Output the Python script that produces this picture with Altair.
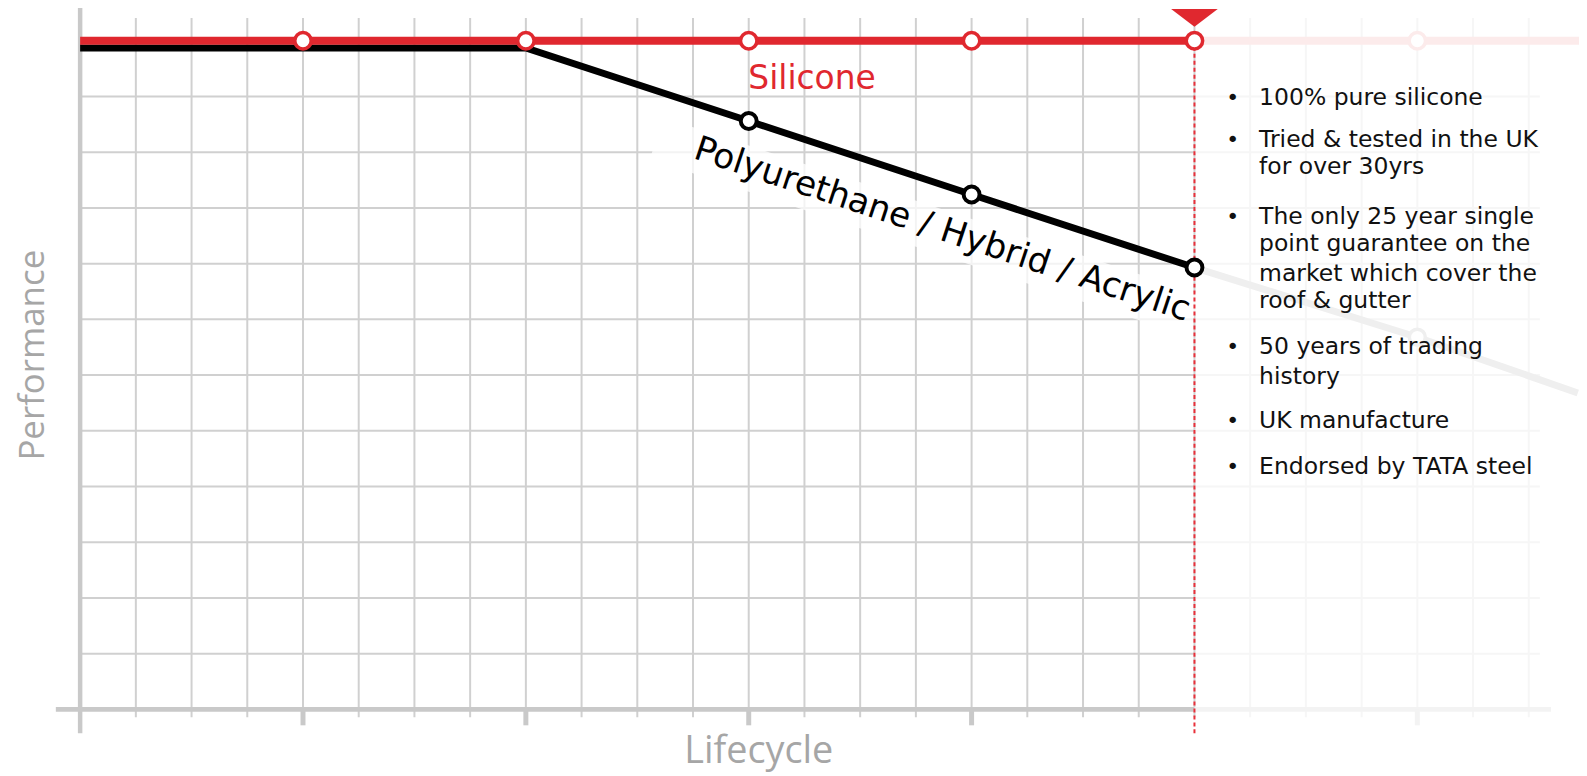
import altair as alt
import pandas as pd

# ---------------- data ----------------
silicone_x = [0, 1, 2, 3, 4, 5]
silicone_y = [12, 12, 12, 12, 12, 12]
silicone_marker_x = [1, 2, 3, 4, 5]
silicone_fade_x = [5, 6, 6.73]
silicone_fade_y = [12, 12, 12]
silicone_fade_marker_x = [6]

poly_x = [0, 2, 3, 4, 5]
poly_y = [11.87, 11.87, 10.56, 9.24, 7.93]
poly_marker_x = [3, 4, 5]
poly_marker_y = [10.56, 9.24, 7.93]
poly_fade_x = [5, 6, 6.72]
poly_fade_y = [7.93, 6.68, 5.68]

grid_x = [0.25, 0.5, 0.75, 1.0, 1.25, 1.5, 1.75, 2.0, 2.25, 2.5, 2.75, 3.0,
          3.25, 3.5, 3.75, 4.0, 4.25, 4.5, 4.75, 5.0]
grid_fade_x = [5.25, 5.5, 5.75, 6.0, 6.25, 6.5]
grid_y = [1, 2, 3, 4, 5, 6, 7, 8, 9, 10, 11, 12]
major_x = [1, 2, 3, 4]
major_fade_x = [6]

bullet_lines = [
    "100% pure silicone",
    "Tried & tested in the UK",
    "for over 30yrs",
    "The only 25 year single",
    "point guarantee on the",
    "market which cover the",
    "roof & gutter",
    "50 years of trading",
    "history",
    "UK manufacture",
    "Endorsed by TATA steel",
]
bullet_line_y = [10.98, 10.21, 9.73, 8.83, 8.36, 7.82, 7.33, 6.5, 5.97, 5.18, 4.35]
bullet_start = [True, True, False, True, False, False, False, True, False, True, True]

# ---------------- styling ----------------
RED = "#e0282f"
GRID = "#d0d0d0"
AXIS = "#c9c9c9"
FADE_GRID = "#f6f6f6"
FADE_RED = "#fcebeb"
FADE_BLACK = "#efefef"

W, H = 1579, 768
X = alt.Scale(domain=[-0.323661, 6.725446], nice=False, zero=False)
Y = alt.Scale(domain=[-1.160714, 12.553571], nice=False, zero=False)


def xe(f):
    return alt.X(f, type="quantitative", scale=X, axis=None)


def ye(f):
    return alt.Y(f, type="quantitative", scale=Y, axis=None)


layers = []

# vertical grid lines (extend slightly below the axis as minor ticks)
vg = pd.DataFrame({"x": grid_x, "y0": -0.143, "y1": 12.41})
layers.append(alt.Chart(vg).mark_rule(color=GRID, strokeWidth=2).encode(
    x=xe("x"), y=ye("y0"), y2="y1"))
vgf = pd.DataFrame({"x": grid_fade_x, "y0": -0.143, "y1": 12.41})
layers.append(alt.Chart(vgf).mark_rule(color=FADE_GRID, strokeWidth=2).encode(
    x=xe("x"), y=ye("y0"), y2="y1"))

# horizontal grid lines
hg = pd.DataFrame({"y": grid_y, "x0": 0, "x1": 5})
layers.append(alt.Chart(hg).mark_rule(color=GRID, strokeWidth=2).encode(
    y=ye("y"), x=xe("x0"), x2="x1"))
hgf = pd.DataFrame({"y": grid_y, "x0": 5, "x1": 6.55})
layers.append(alt.Chart(hgf).mark_rule(color=FADE_GRID, strokeWidth=2).encode(
    y=ye("y"), x=xe("x0"), x2="x1"))

# white band behind the rotated label
band = pd.DataFrame({"x": [2.587, 5.0], "y": [10.25, 7.07]})
layers.append(alt.Chart(band).mark_line(color="white", strokeWidth=44, opacity=0.75,
                                        strokeCap="butt").encode(x=xe("x"), y=ye("y")))

# axis lines
xa = pd.DataFrame({"x0": [-0.109], "x1": [5.0], "y": [0]})
layers.append(alt.Chart(xa).mark_rule(color=AXIS, strokeWidth=5).encode(
    y=ye("y"), x=xe("x0"), x2="x1"))
xaf = pd.DataFrame({"x0": [5.0], "x1": [6.6], "y": [0]})
layers.append(alt.Chart(xaf).mark_rule(color="#f3f3f3", strokeWidth=5).encode(
    y=ye("y"), x=xe("x0"), x2="x1"))
ya = pd.DataFrame({"x": [0], "y0": [-0.43], "y1": [12.7]})
layers.append(alt.Chart(ya).mark_rule(color=AXIS, strokeWidth=4.5).encode(
    x=xe("x"), y=ye("y0"), y2="y1"))

# major ticks
mt = pd.DataFrame({"x": major_x, "y0": -0.286, "y1": 0})
layers.append(alt.Chart(mt).mark_rule(color=AXIS, strokeWidth=5).encode(
    x=xe("x"), y=ye("y0"), y2="y1"))
mtf = pd.DataFrame({"x": major_fade_x, "y0": -0.286, "y1": 0})
layers.append(alt.Chart(mtf).mark_rule(color="#f3f3f3", strokeWidth=5).encode(
    x=xe("x"), y=ye("y0"), y2="y1"))

# faded continuation lines
pf = pd.DataFrame({"x": poly_fade_x, "y": poly_fade_y})
layers.append(alt.Chart(pf).mark_line(color=FADE_BLACK, strokeWidth=7).encode(
    x=xe("x"), y=ye("y")))
sf = pd.DataFrame({"x": silicone_fade_x, "y": silicone_fade_y})
layers.append(alt.Chart(sf).mark_line(color=FADE_RED, strokeWidth=8).encode(
    x=xe("x"), y=ye("y")))

# main lines
pl = pd.DataFrame({"x": poly_x, "y": poly_y})
layers.append(alt.Chart(pl).mark_line(color="#000000", strokeWidth=7).encode(
    x=xe("x"), y=ye("y")))
sl = pd.DataFrame({"x": silicone_x, "y": silicone_y})
layers.append(alt.Chart(sl).mark_line(color=RED, strokeWidth=8).encode(
    x=xe("x"), y=ye("y")))

# red dashed marker line
dl = pd.DataFrame({"x": [5], "y0": [-0.43], "y1": [12]})
layers.append(alt.Chart(dl).mark_rule(color="#e8303a", strokeWidth=2, strokeDash=[4, 3]).encode(
    x=xe("x"), y=ye("y0"), y2="y1"))

# markers
fm = pd.DataFrame({"x": silicone_fade_marker_x, "y": [12]})
layers.append(alt.Chart(fm).mark_point(shape="circle", filled=True, fill="white", stroke=FADE_RED,
                                       strokeWidth=3.5, size=272, opacity=1).encode(x=xe("x"), y=ye("y")))
fpm = pd.DataFrame({"x": [6], "y": [6.68]})
layers.append(alt.Chart(fpm).mark_point(shape="circle", filled=True, fill="white", stroke=FADE_BLACK,
                                        strokeWidth=3.5, size=256, opacity=1).encode(x=xe("x"), y=ye("y")))
pm = pd.DataFrame({"x": poly_marker_x, "y": poly_marker_y})
layers.append(alt.Chart(pm).mark_point(shape="circle", filled=True, fill="white", stroke="#000000",
                                       strokeWidth=4, size=256, opacity=1).encode(x=xe("x"), y=ye("y")))
sm = pd.DataFrame({"x": silicone_marker_x, "y": [12] * len(silicone_marker_x)})
layers.append(alt.Chart(sm).mark_point(shape="circle", filled=True, fill="white", stroke=RED,
                                       strokeWidth=3.5, size=272, opacity=1).encode(x=xe("x"), y=ye("y")))

# triangle pointer at the top
tri = pd.DataFrame({"x": [5], "y": [12.25]})
layers.append(alt.Chart(tri).mark_point(shape="M-1.3,-1L1.3,-1L0,0Z", filled=True, color=RED,
                                        size=1300, opacity=1, strokeWidth=0).encode(x=xe("x"), y=ye("y")))

# series labels
lab_s = pd.DataFrame({"x": [3.284], "y": [11.31], "t": ["Silicone"]})
layers.append(alt.Chart(lab_s).mark_text(font="DejaVu Sans", fontSize=33, color=RED, align="center",
                                         baseline="middle").encode(x=xe("x"), y=ye("y"), text="t:N"))
lab_p = pd.DataFrame({"x": [3.868], "y": [8.60], "t": ["Polyurethane / Hybrid / Acrylic"]})
layers.append(alt.Chart(lab_p).mark_text(font="DejaVu Sans", fontSize=34.5, color="#000000", align="center",
                                         baseline="middle", angle=18.3).encode(x=xe("x"), y=ye("y"), text="t:N"))

# bullet list
bl = pd.DataFrame({"t": bullet_lines, "y": bullet_line_y, "b": bullet_start})
bl["x"] = 5.29
layers.append(alt.Chart(bl).mark_text(font="DejaVu Sans", fontSize=23.6, color="#111111", align="left",
                                      baseline="middle").encode(x=xe("x"), y=ye("y"), text="t:N"))
bd = bl[bl["b"]].copy()
bd["x"] = 5.172
bd["dot"] = "•"
layers.append(alt.Chart(bd).mark_text(font="DejaVu Sans", fontSize=22, color="#111111", align="center",
                                      baseline="middle").encode(x=xe("x"), y=ye("y"), text="dot:N"))

# axis titles
at_y = pd.DataFrame({"x": [-0.2098], "y": [6.357], "t": ["Performance"]})
layers.append(alt.Chart(at_y).mark_text(font="Open Sans", fontSize=35, color="#a6a6a6", align="center",
                                        baseline="middle", angle=270).encode(x=xe("x"), y=ye("y"), text="t:N"))
at_x = pd.DataFrame({"x": [3.045], "y": [-0.964], "t": ["Lifecycle"]})
layers.append(alt.Chart(at_x).mark_text(font="Open Sans", fontSize=38, color="#a6a6a6", align="center",
                                        baseline="alphabetic").encode(x=xe("x"), y=ye("y"), text="t:N"))

chart = alt.layer(*layers).properties(
    width=W, height=H, padding=0, background="white",
    autosize=alt.AutoSizeParams(type="none"),
).configure_view(stroke=None)

chart.save("out.html", embed_options={"renderer": "svg", "actions": False})
